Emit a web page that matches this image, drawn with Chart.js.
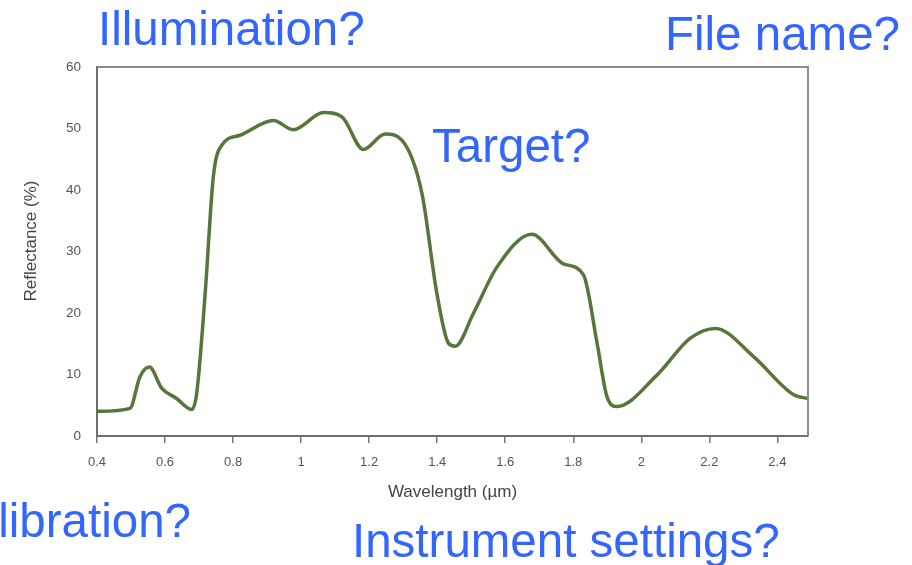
<!DOCTYPE html>
<html>
<head>
<meta charset="utf-8">
<script src="https://cdn.jsdelivr.net/npm/chart.js@4"></script>
<style>
  html, body { margin: 0; padding: 0; background: #fff; }
  #wrap { position: relative; width: 912px; height: 565px; }
</style>
</head>
<body>
<div id="wrap"><canvas id="spectrum"></canvas></div>
<script>
// ----------------------
// DATA
// ----------------------

const wavelengths = [0.40, 0.497, 0.526, 0.554, 0.59, 0.634, 0.678, 0.693, 0.718, 0.742, 0.767, 0.82,
  0.919, 0.977, 1.066, 1.12, 1.183, 1.247, 1.296, 1.355, 1.399, 1.433, 1.453, 1.507, 1.576, 1.678,
  1.771, 1.83, 1.87, 1.899, 1.928, 2.046, 2.144, 2.218, 2.33, 2.448, 2.49];

const reflectance = [4.0, 4.5, 9.6, 11.2, 7.8, 6.1, 4.3, 6.9, 23.2, 42.2, 47.3, 48.9,
  51.3, 49.8, 52.6, 51.9, 46.6, 49.1, 48.1, 39.5, 23.2, 15.1, 14.6, 20.0, 27.5, 32.8,
  28.0, 26.2, 15.1, 6.4, 4.8, 9.9, 15.9, 17.5, 12.9, 6.7, 6.1];

const xTicks = [0.4, 0.6, 0.8, 1, 1.2, 1.4, 1.6, 1.8, 2, 2.2, 2.4];

const yTitle = "Reflectance (%)";

// blue questions round the chart
const notes = [
  { text: "Illumination?", x: 98, y: 45, align: "left" },
  { text: "File name?", x: 665, y: 50, align: "left" },
  { text: "Target?", x: 432, y: 162, align: "left" },
  { text: "Calibration?", x: 191, y: 537, align: "right" },
  { text: "Instrument settings?", x: 352, y: 557, align: "left" }
];

const AXIS_FONT = '"Liberation Sans", Arial, sans-serif';

// ----------------------
// PLUGINS
// ----------------------

// top and right edge of the plot box, plus the y title
const frameBox = {
  id: 'frameBox',
  afterDraw(chart) {
    const a = chart.chartArea;
    const ctx = chart.ctx;
    ctx.save();
    ctx.strokeStyle = '#8c8c8c';
    ctx.lineWidth = 2;
    ctx.beginPath();
    ctx.moveTo(a.left, a.top);
    ctx.lineTo(a.right, a.top);
    ctx.lineTo(a.right, a.bottom);
    ctx.stroke();

    // y title sits a bit above the middle in the original
    ctx.translate(31, 241);
    ctx.rotate(-Math.PI / 2);
    ctx.fillStyle = '#444';
    ctx.font = '17px ' + AXIS_FONT;
    ctx.textAlign = 'center';
    ctx.textBaseline = 'middle';
    ctx.fillText(yTitle, 0, 0);
    ctx.restore();
  }
};

const blueNotes = {
  id: 'blueNotes',
  afterDraw(chart) {
    const ctx = chart.ctx;
    ctx.save();
    ctx.fillStyle = '#3366ff';
    ctx.font = '47.5px ' + AXIS_FONT;
    ctx.textBaseline = 'alphabetic';
    notes.forEach(n => {
      ctx.textAlign = n.align;
      ctx.fillText(n.text, n.x, n.y);
    });
    ctx.restore();
  }
};

// ----------------------
// CHART
// ----------------------

const points = wavelengths.map((w, i) => ({ x: w, y: reflectance[i] }));

const ctx = document.getElementById('spectrum').getContext('2d');

new Chart(ctx, {
  type: 'line',
  data: {
    datasets: [{
      data: points,
      borderColor: '#56763a',
      borderWidth: 3.5,
      pointRadius: 0,
      fill: false,
      cubicInterpolationMode: 'monotone'
    }]
  },
  options: {
    responsive: true,
    maintainAspectRatio: false,
    animation: false,
    layout: { padding: { left: 22, top: 67, right: 104, bottom: 62 } },
    plugins: {
      legend: { display: false },
      tooltip: { enabled: false }
    },
    scales: {
      x: {
        type: 'linear',
        min: 0.4,
        max: 2.49,
        afterBuildTicks: scale => { scale.ticks = xTicks.map(v => ({ value: v })); },
        afterFit: scale => { scale.height = 67; },
        grid: { drawOnChartArea: false, drawTicks: true, tickLength: 7, color: '#777', lineWidth: 1.5 },
        border: { display: true, color: '#6e6e6e', width: 2 },
        ticks: {
          padding: 12,
          color: '#555',
          font: { family: AXIS_FONT, size: 13 },
          maxRotation: 0,
          callback: v => String(v)
        },
        title: {
          display: true,
          text: 'Wavelength (µm)',
          color: '#444',
          padding: 0,
          font: { family: AXIS_FONT, size: 17 }
        }
      },
      y: {
        min: 0,
        max: 60,
        afterFit: scale => { scale.width = 75; },
        grid: { drawOnChartArea: false, drawTicks: false },
        border: { display: true, color: '#6e6e6e', width: 2 },
        ticks: {
          stepSize: 10,
          padding: 16,
          color: '#555',
          font: { family: AXIS_FONT, size: 13.5 }
        },
        title: { display: false }
      }
    }
  },
  plugins: [frameBox, blueNotes]
});
</script>
</body>
</html>
